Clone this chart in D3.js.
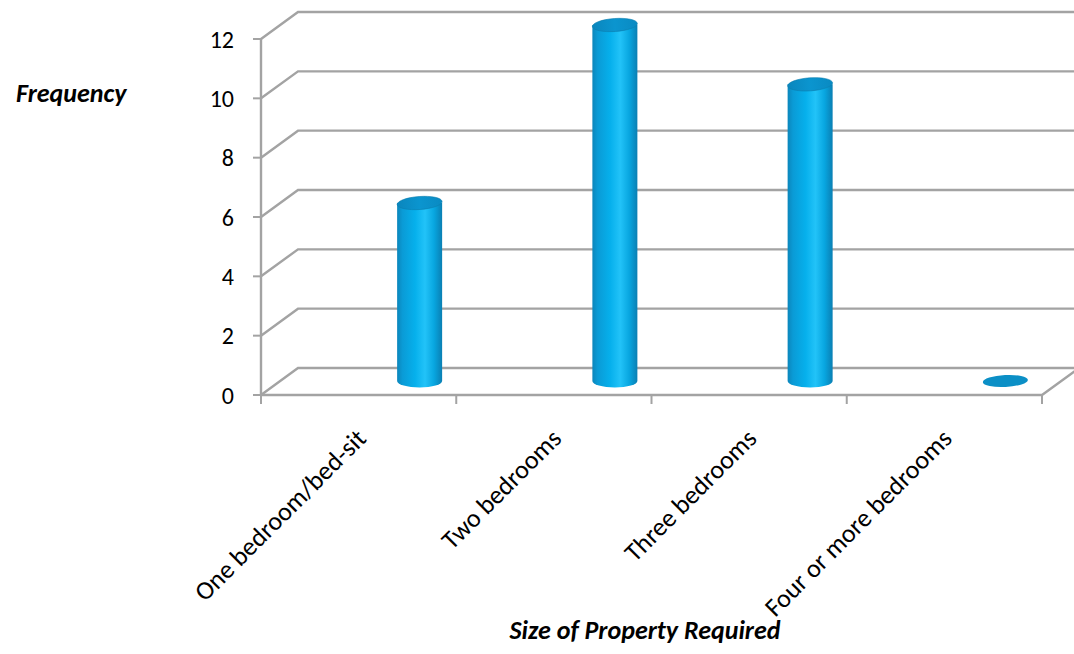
<!DOCTYPE html>
<html>
<head>
<meta charset="utf-8">
<script src="https://cdn.jsdelivr.net/npm/d3@7"></script>
<style>
  html, body { margin: 0; padding: 0; background: #fff; }
  svg { display: block; }
  text { font-family: Carlito, Calibri, Lato, "Open Sans", sans-serif; fill: #000; }
</style>
</head>
<body>
<svg id="chart" width="1074" height="654"></svg>
<script>
const categories = ["One bedroom/bed-sit", "Two bedrooms", "Three bedrooms", "Four or more bedrooms"];
const values = [6, 12, 10, 0];
const yTicks = [0, 2, 4, 6, 8, 10, 12];
const yTitle = "Frequency";
const xTitle = "Size of Property Required";

const W = 1074, H = 654;
const svg = d3.select("#chart");

const x0 = 261, x1 = 1042;
const y = d3.scaleLinear().domain([0, 12]).range([395, 39]);
const x = d3.scaleBand().domain(categories).range([x0, x1]).padding(0);
const depth = { dx: 37, dy: -27 };
const cyl = { dx: 61, dy: -14, rx: 22.5, ry: 6.5 };
const gridColor = "#a3a3a3";

const defs = svg.append("defs");

const grad = defs.append("linearGradient").attr("id", "cylGrad").attr("x1", "0").attr("x2", "1").attr("y1", "0").attr("y2", "0");
[[0, "#0c86bb"], [0.12, "#0a9bd6"], [0.4, "#06b0ec"], [0.62, "#22c3f8"], [0.82, "#08a6e0"], [1, "#0a7fb3"]]
  .forEach(([o, c]) => grad.append("stop").attr("offset", o).attr("stop-color", c));
const topGrad = defs.append("linearGradient").attr("id", "topGrad").attr("x1", "0").attr("x2", "1").attr("y1", "0").attr("y2", "0");
[[0, "#0a86bd"], [0.5, "#0b95cf"], [1, "#0a8ac2"]]
  .forEach(([o, c]) => topGrad.append("stop").attr("offset", o).attr("stop-color", c));

const g = svg.append("g");

// back wall gridlines with side-wall connectors
yTicks.forEach(v => {
  const yf = y(v);
  g.append("path")
    .attr("d", `M${x0},${yf} L${x0 + depth.dx},${yf + depth.dy} L${W + 20},${yf + depth.dy}`)
    .attr("fill", "none").attr("stroke", gridColor).attr("stroke-width", 2.4);
});

// floor front edge and right side edge
g.append("path")
  .attr("d", `M${x0},${y(0)} L${x1},${y(0)} L${x1 + depth.dx},${y(0) + depth.dy}`)
  .attr("fill", "none").attr("stroke", gridColor).attr("stroke-width", 2.4);

// vertical axis
g.append("line").attr("x1", x0).attr("x2", x0).attr("y1", y(12)).attr("y2", y(0))
  .attr("stroke", gridColor).attr("stroke-width", 2.4);

// y ticks
yTicks.forEach(v => {
  g.append("line").attr("x1", x0 - 8).attr("x2", x0).attr("y1", y(v)).attr("y2", y(v))
    .attr("stroke", gridColor).attr("stroke-width", 2);
  g.append("text").attr("x", 234).attr("y", y(v)).attr("dy", "0.36em")
    .attr("text-anchor", "end").attr("font-size", 24).text(v);
});

// x ticks
const xTickPos = categories.map(c => x(c)).concat([x1]);
xTickPos.forEach(p => {
  g.append("line").attr("x1", p).attr("x2", p).attr("y1", y(0)).attr("y2", y(0) + 9)
    .attr("stroke", gridColor).attr("stroke-width", 2);
});

// cylinders
categories.forEach((c, i) => {
  const v = values[i];
  const cx = x(c) + x.bandwidth() / 2 + cyl.dx;
  const yb = y(0) + cyl.dy;
  const yt = y(v) + cyl.dy;
  const cg = g.append("g");
  if (v > 0) {
    cg.append("path")
      .attr("d", `M${cx - cyl.rx},${yt} L${cx - cyl.rx},${yb} A${cyl.rx},${cyl.ry} 0 0 0 ${cx + cyl.rx},${yb} L${cx + cyl.rx},${yt} Z`)
      .attr("fill", "url(#cylGrad)");
    cg.append("ellipse").attr("cx", cx).attr("cy", yt).attr("rx", cyl.rx).attr("ry", cyl.ry)
      .attr("transform", `rotate(-4 ${cx} ${yt})`)
      .attr("fill", "url(#topGrad)").attr("stroke", "#0c7fb0").attr("stroke-width", 0.6);
  } else {
    cg.append("ellipse").attr("cx", cx).attr("cy", yt).attr("rx", cyl.rx).attr("ry", cyl.ry - 0.5)
      .attr("transform", `rotate(-3 ${cx} ${yt})`)
      .attr("fill", "#0b8fc6");
  }
});

// x labels
categories.forEach(c => {
  const cx = x(c) + x.bandwidth() / 2;
  g.append("text")
    .attr("transform", `translate(${cx + 9},${440}) rotate(-45)`)
    .attr("text-anchor", "end").attr("font-size", 26).text(c);
});

// axis titles
svg.append("text").attr("x", 16).attr("y", 102).attr("font-size", 26)
  .attr("font-weight", "bold").attr("font-style", "italic").text(yTitle);
svg.append("text").attr("x", 645).attr("y", 639).attr("text-anchor", "middle").attr("font-size", 26)
  .attr("font-weight", "bold").attr("font-style", "italic").text(xTitle);
</script>
</body>
</html>
